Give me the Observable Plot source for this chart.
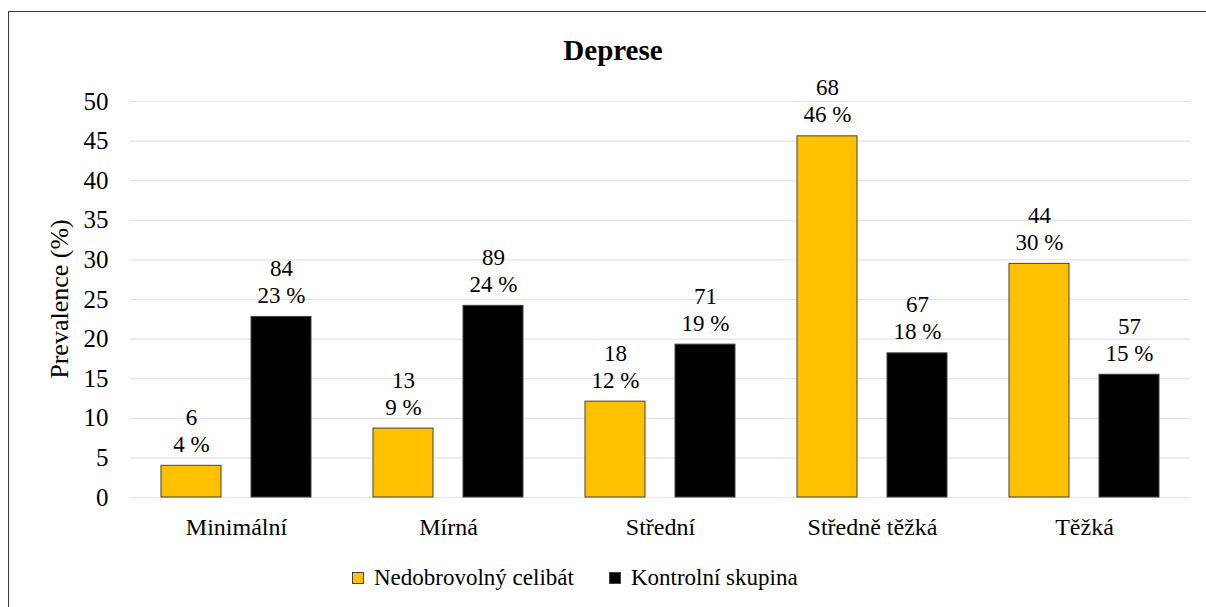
<!DOCTYPE html>
<html><head><meta charset="utf-8">
<script src="https://cdn.jsdelivr.net/npm/d3@7"></script>
<script src="https://cdn.jsdelivr.net/npm/@observablehq/plot@0.6"></script>
<style>
body{margin:0;background:#fff;font-family:"Liberation Serif",serif;color:#000;}
#wrap{position:relative;width:1206px;height:607px;overflow:hidden;}
#border{position:absolute;left:8px;top:11px;width:1400px;height:800px;border:1px solid #3a3a3a;}
#title{position:absolute;top:36px;left:0;width:1226px;text-align:center;font-weight:bold;font-size:29px;line-height:1;font-family:"Liberation Serif",serif;}
#chart{position:absolute;left:0;top:0;}
#chart svg, #chart svg text{font-family:"Liberation Serif",serif !important;}
#ylabel{position:absolute;left:60px;top:299px;transform:translate(-50%,-50%) rotate(-90deg);font-size:26px;line-height:1;white-space:nowrap;}
#legend{position:absolute;top:566px;left:352px;display:flex;align-items:center;font-size:23px;line-height:1;white-space:nowrap;font-family:"Liberation Serif",serif;}
.sw{width:12px;height:12px;box-sizing:border-box;border:1px solid #404040;margin-right:10px;}
.item{display:flex;align-items:center;margin-right:35px;}
</style></head>
<body>
<div id="wrap">
<div id="border"></div>
<div id="chart"></div>
<div id="title">Deprese</div>
<div id="ylabel"></div>
<div id="legend"></div>
</div>
<script>
const categories = ["Minimální", "Mírná", "Střední", "Středně těžká", "Těžká"];
const seriesNames = ["Nedobrovolný celibát", "Kontrolní skupina"];
const seriesColors = ["#FFC000", "#000000"];
const celibatePct = [4.0, 8.7, 12.1, 45.6, 29.5];
const controlPct = [22.8, 24.2, 19.3, 18.2, 15.5];
const celibateCounts = [6, 13, 18, 68, 44];
const controlCounts = [84, 89, 71, 67, 57];
const celibatePctLabels = ["4 %", "9 %", "12 %", "46 %", "30 %"];
const controlPctLabels = ["23 %", "24 %", "19 %", "18 %", "15 %"];
const yTicks = [0, 5, 10, 15, 20, 25, 30, 35, 40, 45, 50];
const yLabel = "Prevalence (%)";

const data = categories.flatMap((c, i) => [
  {category: c, series: seriesNames[0], value: celibatePct[i], label: celibateCounts[i] + "\n" + celibatePctLabels[i]},
  {category: c, series: seriesNames[1], value: controlPct[i], label: controlCounts[i] + "\n" + controlPctLabels[i]}
]);

const font = "Liberation Serif";
const chart = Plot.plot({
  width: 1206,
  height: 560,
  marginLeft: 130,
  marginRight: 16,
  marginTop: 101,
  marginBottom: 63,
  style: {fontFamily: font, color: "#000", background: "transparent", overflow: "visible"},
  fx: {domain: categories, padding: 0, label: null},
  x: {domain: seriesNames, padding: 0.33, axis: null},
  y: {domain: [0, 50]},
  color: {domain: seriesNames, range: seriesColors},
  marks: [
    Plot.ruleY(yTicks, {stroke: "#e4e4e4", strokeWidth: 1.2}),
    Plot.axisY({ticks: yTicks, tickSize: 0, tickPadding: 22, fontSize: 25, fontFamily: font, label: null}),
    Plot.axisFx({anchor: "bottom", tickSize: 0, tickPadding: 20, fontSize: 24, fontFamily: font, label: null}),
    Plot.barY(data, {fx: "category", x: "series", y: "value", fill: "series", stroke: "#404040", strokeWidth: 1}),
    Plot.text(data, {fx: "category", x: "series", y: "value", text: "label", lineAnchor: "bottom", dy: -14, fontSize: 23, fontFamily: font, lineHeight: 1.17})
  ]
});
document.getElementById("chart").appendChild(chart);
document.getElementById("ylabel").textContent = yLabel;

const legend = document.getElementById("legend");
seriesNames.forEach((s, i) => {
  const it = document.createElement("div");
  it.className = "item";
  const sw = document.createElement("div");
  sw.className = "sw";
  sw.style.background = seriesColors[i];
  const t = document.createElement("span");
  t.textContent = s;
  it.appendChild(sw);
  it.appendChild(t);
  legend.appendChild(it);
});
</script>
</body></html>
